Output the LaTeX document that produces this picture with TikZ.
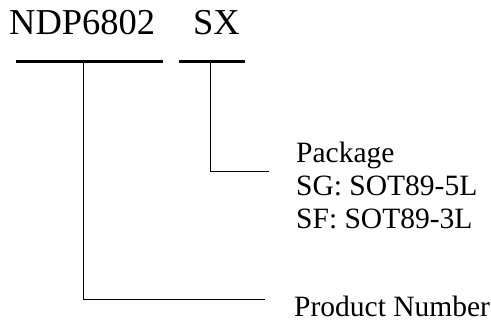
\documentclass[tikz,border=0pt]{standalone}
\usepackage{fontspec}
\setmainfont{Liberation Serif}
\begin{document}
\begin{tikzpicture}[x=1pt,y=-1pt,
  bigtext/.style={anchor=base west, inner sep=0pt, font=\fontsize{36.5}{42}\selectfont},
  smalltext/.style={anchor=base west, inner sep=0pt, font=\fontsize{29.5}{33}\selectfont},
  bar/.style={line width=3pt},
  leader/.style={line width=1pt}]
\useasboundingbox (0,0) rectangle (491,323);
\node[bigtext] (pn) at (9,35) {NDP6802};
\node[bigtext] (sx) at (193,35) {SX};
\coordinate (b1l) at (16,61.5);
\coordinate (b1r) at (163,61.5);
\coordinate (b1m) at (83,61.5);
\coordinate (b2l) at (179,62);
\coordinate (b2r) at (245,62);
\coordinate (b2m) at (210,62);
\draw[bar] (b1l) -- (b1r);
\draw[bar] (b2l) -- (b2r);
\node[smalltext] (pkg) at (296,163) {Package};
\node[smalltext] (sg) at (296,196) {SG: SOT89-5L};
\node[smalltext] (sf) at (296,229) {SF: SOT89-3L};
\node[smalltext] (prod) at (294,317) {Product Number};
\coordinate (pkgend) at (269,172);
\coordinate (prodend) at (265,300);
\draw[leader] (b2m) |- (pkgend);
\draw[leader] (b1m) |- (prodend);
\end{tikzpicture}
\end{document}
